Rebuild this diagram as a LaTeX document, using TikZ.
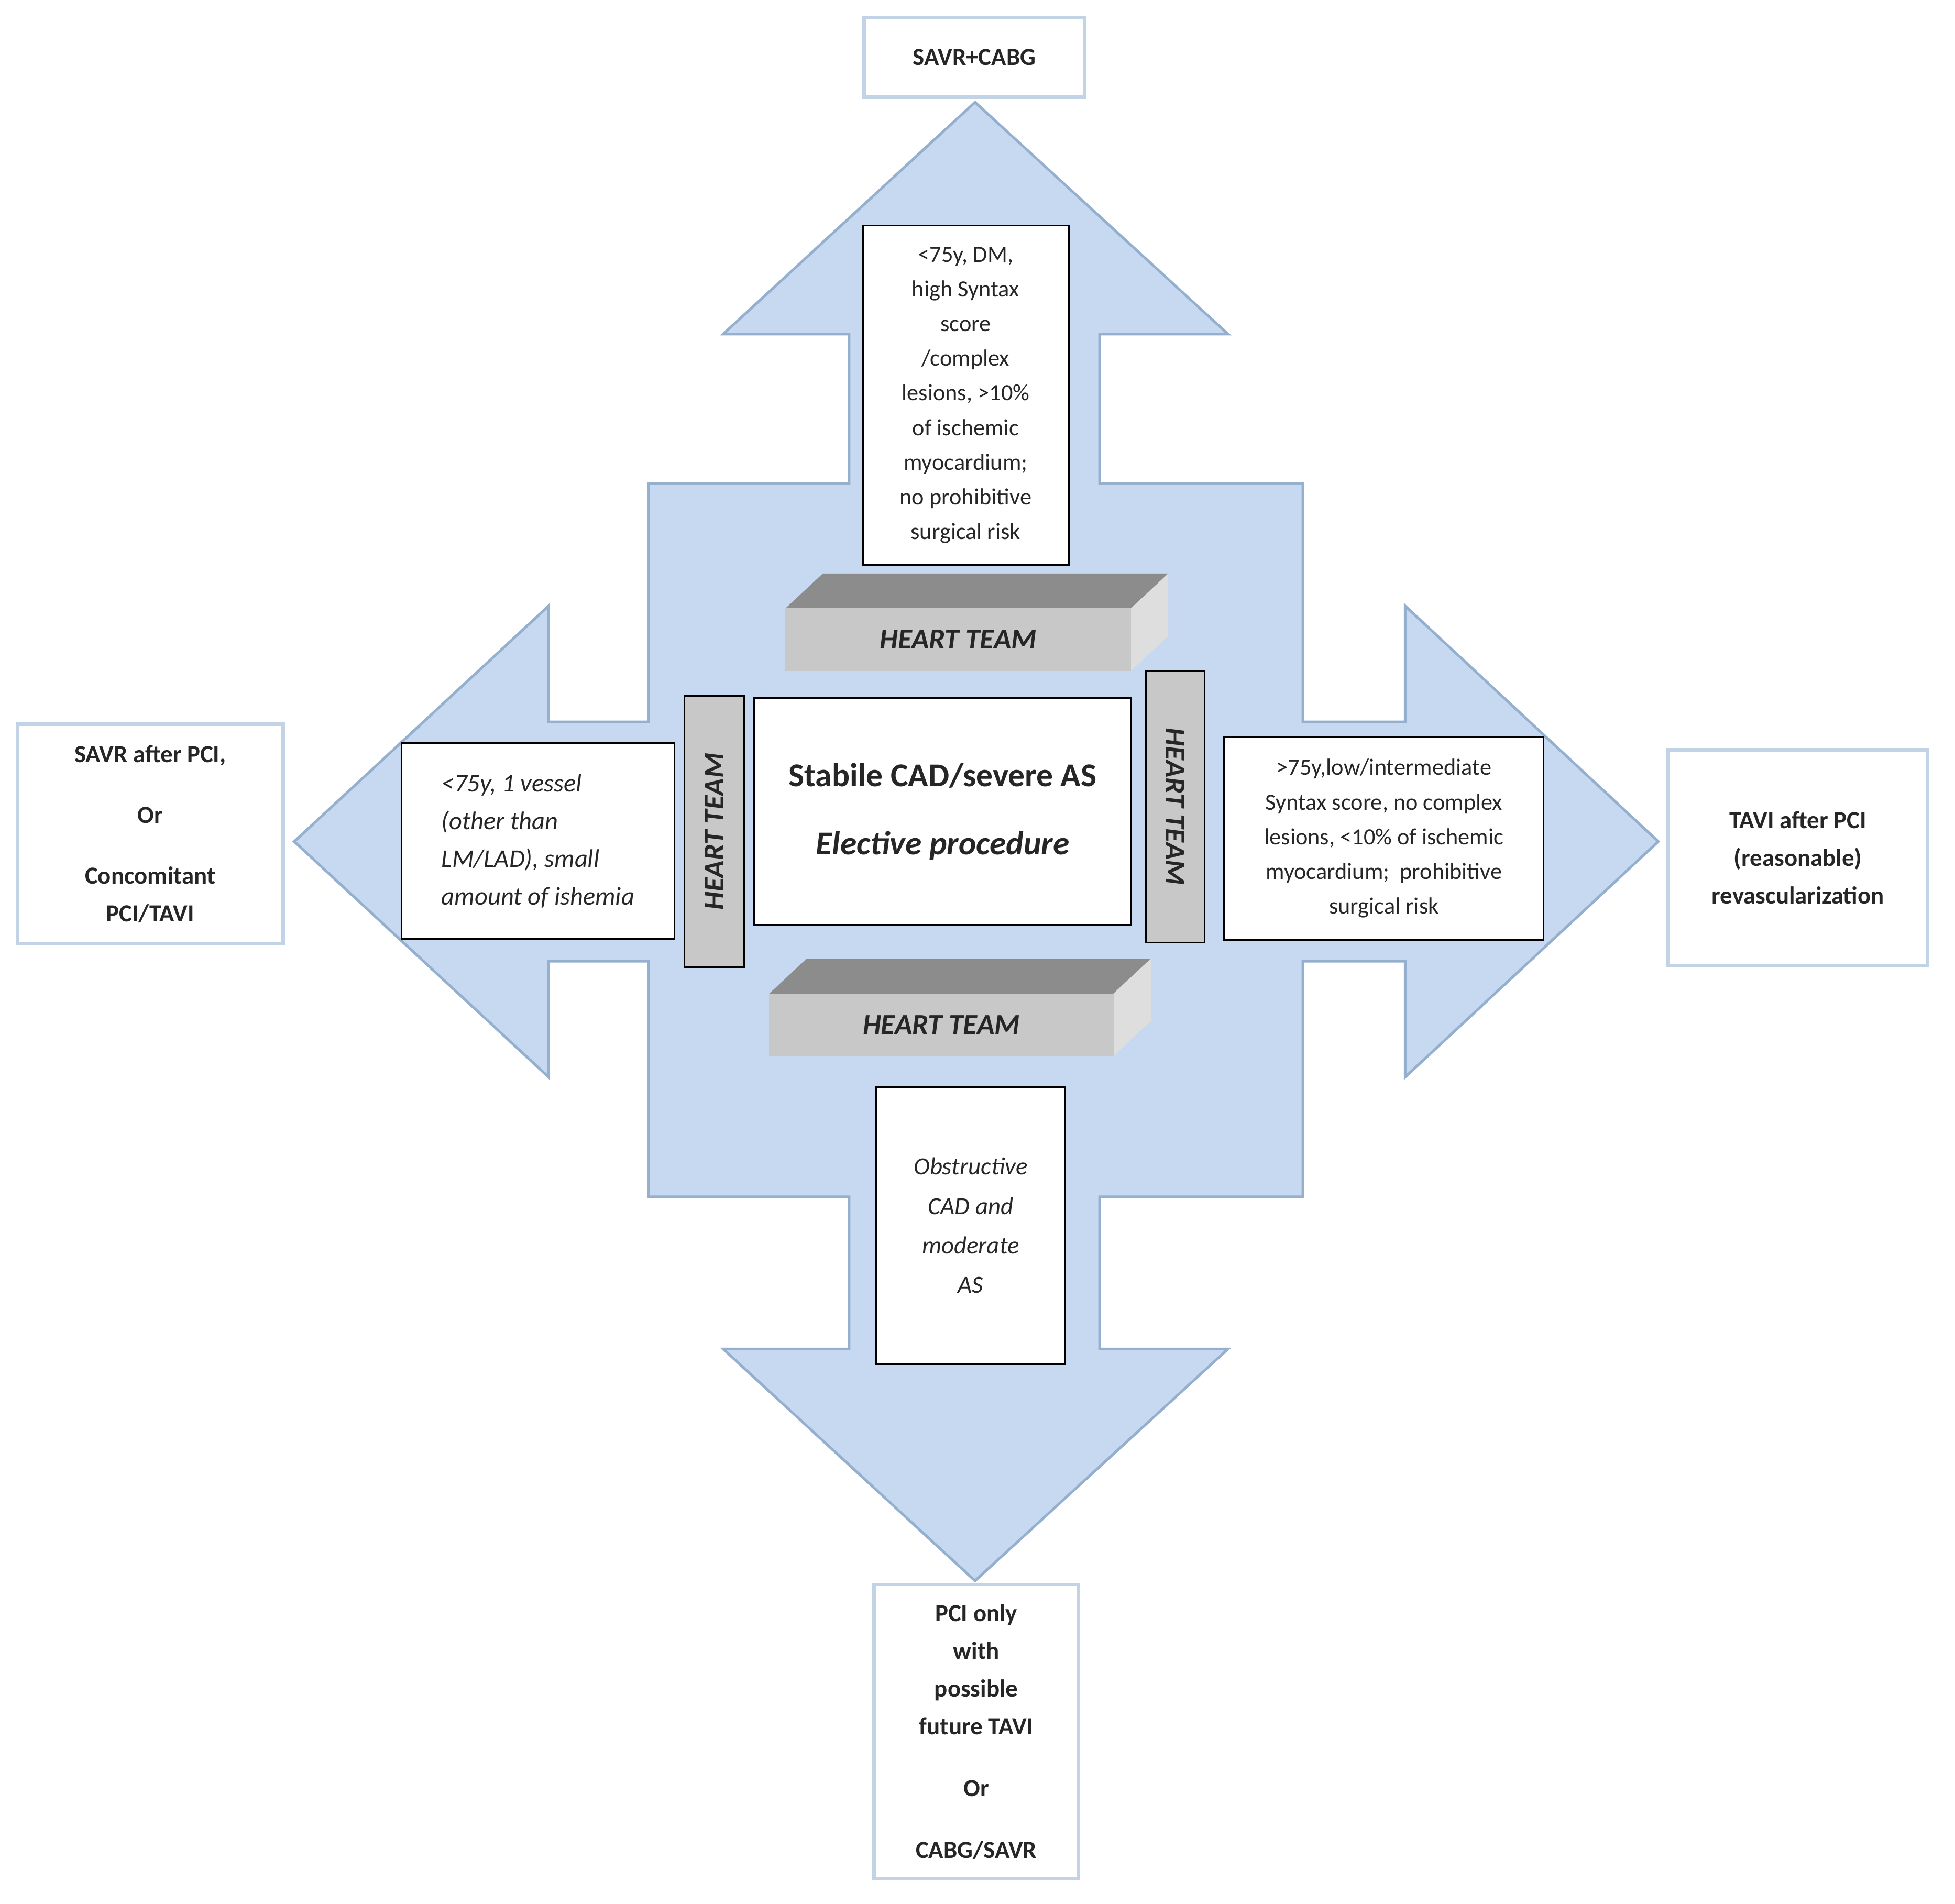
\documentclass[tikz,border=0pt]{standalone}
\usepackage{fontspec}
\setmainfont{Carlito}
\begin{document}
\begin{tikzpicture}[x=0.01cm,y=-0.01cm,
  box/.style={draw=black,line width=0.4pt,fill=white,inner sep=0pt,align=center,text=black!85},
  outc/.style={draw=outline,line width=0.8pt,fill=white,inner sep=0pt,align=center,font=\fontsize{5.6pt}{8.6pt}\selectfont\bfseries,text=black!85},
  crit/.style={box,font=\fontsize{5.3pt}{7.9pt}\selectfont},
  ht/.style={font=\fontsize{6.6pt}{7pt}\selectfont\bfseries\itshape,text=black!85}]
\useasboundingbox (0,0) rectangle (1568,1527);
\definecolor{arrfill}{HTML}{C6D9F1}
\definecolor{arrline}{HTML}{95AFCF}
\definecolor{outline}{HTML}{C3D3E6}
\definecolor{topf}{HTML}{8C8C8C}
\definecolor{frontf}{HTML}{C8C8C8}
\definecolor{sidef}{HTML}{DEDEDE}
% cross arrow
\filldraw[fill=arrfill,draw=arrline,line width=0.6pt]
 (782,82) -- (985,268) -- (882,268) -- (882,388) -- (1045,388) -- (1045,579) -- (1127,579) -- (1127,486)
 -- (1330,675) -- (1127,864) -- (1127,771) -- (1045,771) -- (1045,960) -- (882,960) -- (882,1082)
 -- (985,1082) -- (782,1268) -- (580,1082) -- (681,1082) -- (681,960) -- (520,960) -- (520,771)
 -- (440,771) -- (440,864) -- (236,675) -- (440,486) -- (440,579) -- (520,579) -- (520,388)
 -- (681,388) -- (681,268) -- (580,268) -- cycle;
% outcomes
\node[outc,minimum width=1.77cm,minimum height=0.64cm] (top) at (781.5,46) {SAVR+CABG};
\node[outc,minimum width=2.13cm,minimum height=1.76cm] (left) at (120.5,669) {SAVR after PCI,\\[5.3pt]Or\\[5.3pt]Concomitant\\PCI/TAVI};
\node[outc,minimum width=2.08cm,minimum height=1.73cm] (right) at (1442,688) {TAVI after PCI\\(reasonable)\\revascularization};
\node[outc,minimum width=1.64cm,minimum height=2.36cm] (bot) at (783,1389) {PCI only\\with\\possible\\future TAVI\\[5.5pt]Or\\[5.5pt]CABG/SAVR};
% criteria
\node[crit,minimum width=1.65cm,minimum height=2.72cm] (ct) at (774.5,317) {<75y, DM,\\high Syntax\\score\\/complex\\lesions, >10\%\\of ischemic\\myocardium;\\no prohibitive\\surgical risk};
\node[crit,minimum width=2.19cm,minimum height=1.57cm,font=\fontsize{5.8pt}{8.6pt}\selectfont\itshape] (cl) at (431.5,674.5) {\begin{tabular}{@{}l@{}}<75y, 1 vessel\\(other than\\LM/LAD), small\\amount of ishemia\end{tabular}};
\node[crit,minimum width=2.56cm,minimum height=1.63cm] (cr) at (1110,672.5) {>75y,low/intermediate\\Syntax score, no complex\\lesions, <10\% of ischemic\\myocardium;\ \ prohibitive\\surgical risk};
\node[crit,minimum width=1.51cm,minimum height=2.22cm,font=\fontsize{5.6pt}{9pt}\selectfont\itshape] (cb) at (778.5,983) {Obstructive\\CAD and\\moderate\\AS};
% center
\node[box,minimum width=3.02cm,minimum height=1.82cm,font=\fontsize{7.6pt}{15.5pt}\selectfont\bfseries] (c) at (756,651) {Stabile CAD/severe AS\\\itshape Elective procedure};
% vertical heart teams
\node[box,fill=frontf,minimum width=0.48cm,minimum height=2.18cm] (hl) at (573,667) {};
\node[ht,rotate=90] at (hl) {HEART TEAM};
\node[box,fill=frontf,minimum width=0.47cm,minimum height=2.18cm] (hr) at (942.5,647) {};
\node[ht,rotate=-90] at (hr) {HEART TEAM};
% 3D heart team top
\fill[topf] (630,488) -- (660,460) -- (937,460) -- (907,488) -- cycle;
\fill[sidef] (907,488) -- (937,460) -- (937,510) -- (907,538) -- cycle;
\node[fill=frontf,minimum width=2.77cm,minimum height=0.5cm,inner sep=0pt,ht] (htt) at (768.5,513) {HEART TEAM};
% 3D heart team bottom
\fill[topf] (617,797) -- (647,769) -- (923,769) -- (893,797) -- cycle;
\fill[sidef] (893,797) -- (923,769) -- (923,819) -- (893,847) -- cycle;
\node[fill=frontf,minimum width=2.76cm,minimum height=0.5cm,inner sep=0pt,ht] (htb) at (755,822) {HEART TEAM};
\end{tikzpicture}
\end{document}
